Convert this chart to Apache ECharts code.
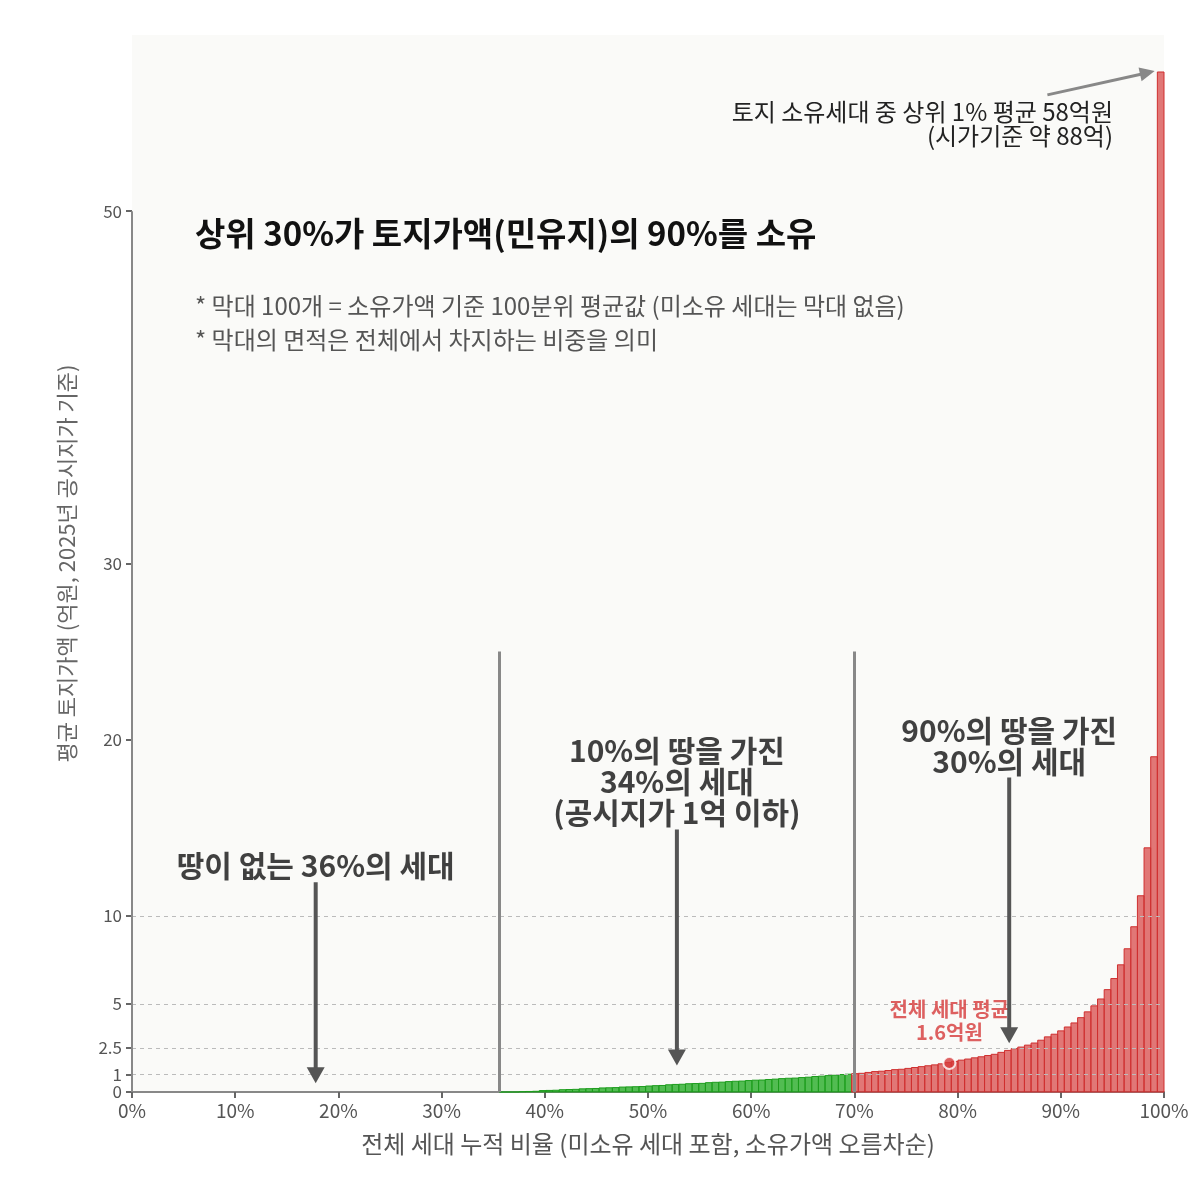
<!DOCTYPE html>
<html>
<head>
<meta charset="utf-8">
<title>토지가액 분포</title>
<script src="https://cdn.jsdelivr.net/npm/echarts@6.0.0/dist/echarts.min.js"></script>
<style>
  html, body { margin: 0; padding: 0; background: #fff; }
  #chart { width: 1200px; height: 1200px; }
</style>
</head>
<body>
<div id="chart"></div>
<script>
// 데이터
var noLandShare = 35.6;          // 미소유 세대 비율(%)
var topShareLine = 70;           // 상위 30% 경계(%)
var meanPoint = [79.2, 1.65];    // 전체 세대 평균 (1.6억원)
var yTicks = [0, 1, 2.5, 5, 10, 20, 30, 50];
var gridValues = [1, 2.5, 5, 10];
// 소유가액 100분위 평균값 (억원)
var barValues = [
  0, 0, 0, 0.02, 0.03, 0.04, 0.08, 0.09, 0.10, 0.13,
  0.14, 0.15, 0.18, 0.19, 0.20, 0.23, 0.24, 0.25, 0.28, 0.29,
  0.30, 0.31, 0.34, 0.36, 0.37, 0.41, 0.43, 0.44, 0.47, 0.48,
  0.49, 0.53, 0.55, 0.56, 0.59, 0.61, 0.62, 0.65, 0.67, 0.68,
  0.71, 0.73, 0.76, 0.78, 0.79, 0.82, 0.84, 0.88, 0.90, 0.93,
  0.95, 0.99, 1.01, 1.04, 1.06, 1.11, 1.16, 1.18, 1.22, 1.27,
  1.29, 1.34, 1.39, 1.44, 1.49, 1.54, 1.60, 1.67, 1.74, 1.81,
  1.87, 1.94, 2.00, 2.07, 2.14, 2.25, 2.36, 2.46, 2.55, 2.66,
  2.78, 2.94, 3.13, 3.28, 3.47, 3.69, 3.92, 4.22, 4.55, 4.89,
  5.28, 5.81, 6.44, 7.22, 8.13, 9.38, 11.14, 13.86, 19.03, 57.9
];
// 화살표 [x시작, y시작, x끝, y끝]
var downArrows = [
  [17.8, 11.9, 17.8, 0.5],
  [52.8, 14.9, 52.8, 1.5],
  [85.0, 17.85, 85.0, 2.77]
];
var topArrow = [[88.7, 56.6, 99.1, 57.95]];

var FONT = 'Noto Sans CJK KR';

var barWidth = (100 - noLandShare) / barValues.length;
var barData = barValues.map(function (v, i) {
  var x0 = noLandShare + i * barWidth;
  return [x0, x0 + barWidth, v];
});

function arrowItem(color, width, headLen, headHalf) {
  return function (params, api) {
    var p0 = api.coord([api.value(0), api.value(1)]);
    var p1 = api.coord([api.value(2), api.value(3)]);
    var dx = p1[0] - p0[0], dy = p1[1] - p0[1];
    var len = Math.sqrt(dx * dx + dy * dy);
    var ux = dx / len, uy = dy / len;
    var bx = p1[0] - ux * headLen, by = p1[1] - uy * headLen;
    return {
      type: 'group',
      children: [
        { type: 'line', shape: { x1: p0[0], y1: p0[1], x2: bx + ux * 2, y2: by + uy * 2 },
          style: { stroke: color, lineWidth: width } },
        { type: 'polygon', shape: { points: [
            [p1[0], p1[1]],
            [bx - uy * headHalf, by + ux * headHalf],
            [bx + uy * headHalf, by - ux * headHalf]
          ] }, style: { fill: color } }
      ]
    };
  };
}

var chart = echarts.init(document.getElementById('chart'));

chart.setOption({
  backgroundColor: '#ffffff',
  animation: false,
  textStyle: { fontFamily: FONT },
  grid: {
    left: 132, right: 36, top: 35, bottom: 108,
    show: true, backgroundColor: '#fafaf8', borderWidth: 0
  },
  xAxis: {
    type: 'value', min: 0, max: 100, interval: 10,
    name: '전체 세대 누적 비율 (미소유 세대 포함, 소유가액 오름차순)',
    nameLocation: 'middle', nameGap: 40,
    nameTextStyle: { fontSize: 24, color: '#555', fontFamily: FONT },
    axisLine: { lineStyle: { color: '#888', width: 2 } },
    axisTick: { show: true, length: 6, lineStyle: { color: '#666', width: 2 } },
    axisLabel: { formatter: '{value}%', fontSize: 19, color: '#555', margin: 9, fontFamily: FONT },
    splitLine: { show: false }
  },
  yAxis: {
    type: 'value', min: 0, max: 60,
    name: '평균 토지가액 (억원, 2025년 공시지가 기준)',
    nameLocation: 'middle', nameGap: 54,
    nameTextStyle: { fontSize: 22, color: '#666', fontFamily: FONT },
    axisLine: { show: false },
    axisTick: { show: true, length: 6, customValues: yTicks, lineStyle: { color: '#666', width: 2 } },
    axisLabel: { customValues: yTicks, showMinLabel: true, hideOverlap: false,
      fontSize: 17, lineHeight: 16, color: '#555', margin: 10, fontFamily: FONT },
    splitLine: { show: false }
  },
  graphic: [
    { type: 'text', x: 195, y: 217, z: 100,
      style: { text: '상위 30%가 토지가액(민유지)의 90%를 소유', font: 'bold 33px "Noto Sans CJK KR"', fill: '#111' } },
    { type: 'text', x: 195, y: 289, z: 100,
      style: { text: '* 막대 100개 = 소유가액 기준 100분위 평균값 (미소유 세대는 막대 없음)\n* 막대의 면적은 전체에서 차지하는 비중을 의미',
        font: '24px "Noto Sans CJK KR"', fill: '#555', lineHeight: 34 } },
    { type: 'text', x: 1113, y: 100, z: 100,
      style: { text: '토지 소유세대 중 상위 1% 평균 58억원\n(시가기준 약 88억)', font: '24px "Noto Sans CJK KR"',
        fill: '#222', align: 'right', lineHeight: 24 } }
  ],
  series: [
    {
      type: 'line', data: [], silent: true, z: 1,
      markLine: {
        silent: true, symbol: 'none', label: { show: false },
        lineStyle: { color: '#bbb', width: 1, type: [4, 4] },
        data: gridValues.map(function (v) { return { yAxis: v }; })
      }
    },
    {
      type: 'custom', name: '100분위 평균값', z: 3,
      encode: { x: [0, 1], y: 2 },
      renderItem: function (params, api) {
        var x0 = api.value(0), x1 = api.value(1), v = api.value(2);
        var pTop = api.coord([x0, v]);
        var pBot = api.coord([x1, 0]);
        var red = (x0 + x1) / 2 >= topShareLine;
        return {
          type: 'rect',
          shape: { x: pTop[0], y: pTop[1], width: pBot[0] - pTop[0], height: pBot[1] - pTop[1] },
          style: {
            fill: red ? 'rgba(214,62,62,0.7)' : 'rgba(34,170,34,0.78)',
            stroke: red ? '#cf2f2f' : '#1c9c1c',
            lineWidth: 1
          }
        };
      },
      data: barData,
      markLine: {
        silent: true, symbol: 'none', label: { show: false }, clip: false,
        lineStyle: { color: '#888', width: 3, type: 'solid' },
        data: [
          [{ coord: [noLandShare, 0] }, { coord: [noLandShare, 25] }],
          [{ coord: [topShareLine, 0] }, { coord: [topShareLine, 25] }],
          [{ coord: [0, 0], lineStyle: { width: 2 } }, { coord: [0, 50] }]
        ]
      }
    },
    {
      type: 'scatter', z: 5, silent: true,
      data: [meanPoint], symbolSize: 12,
      itemStyle: { color: '#d63a3a', borderColor: '#fff', borderWidth: 2 },
      label: {
        show: true, position: 'top', distance: 12,
        formatter: '전체 세대 평균\n1.6억원', color: '#d63a3a', fontSize: 20, fontWeight: 'bold',
        lineHeight: 23, fontFamily: FONT
      }
    },
    {
      type: 'custom', z: 6, silent: true,
      encode: { x: [0, 2], y: [1, 3] },
      renderItem: arrowItem('#555', 4, 16, 9),
      data: downArrows
    },
    {
      type: 'custom', z: 6, silent: true,
      encode: { x: [0, 2], y: [1, 3] },
      renderItem: arrowItem('#888', 3, 15, 7),
      data: topArrow
    },
    {
      type: 'scatter', z: 7, silent: true, symbolSize: 0,
      data: [
        { value: [17.8, 12.0], label: { formatter: '땅이 없는 36%의 세대' } },
        { value: [52.8, 15.0], label: { formatter: '10%의 땅을 가진\n34%의 세대\n(공시지가 1억 이하)' } },
        { value: [85.0, 17.9], label: { formatter: '90%의 땅을 가진\n30%의 세대' } }
      ],
      label: {
        show: true, position: 'top', distance: 0, color: '#111', fontSize: 30, fontWeight: 'bold',
        lineHeight: 31, fontFamily: FONT
      }
    }
  ]
});
</script>
</body>
</html>
